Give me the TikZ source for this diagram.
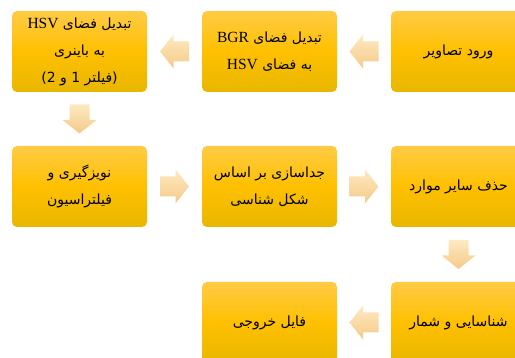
\documentclass[tikz,border=0pt]{standalone}
\usepackage{fontspec}
\setmainfont{Liberation Serif}
\newfontfamily\arabicfont[Script=Arabic]{DejaVu Sans}
\TeXXeTstate=1
\usetikzlibrary{calc}
\newcommand\lat[1]{\beginL{\normalfont\fontsize{15.5}{27}\selectfont #1}\endL}
\newcommand\rl[1]{\beginR #1\endR}
\definecolor{boxtop}{HTML}{FFCB45}
\definecolor{boxmid}{HTML}{FFC000}
\definecolor{boxbot}{HTML}{E8B700}
\definecolor{arrtop}{HTML}{FEE9C2}
\definecolor{arrbot}{HTML}{F4CA88}
\tikzset{
  stepbox/.style={rounded corners=5pt, minimum width=135pt, minimum height=81pt,
    top color=boxtop, bottom color=boxbot, middle color=boxmid,
    align=center, inner sep=0pt,
    font=\arabicfont\fontsize{14}{27}\selectfont},
  arrshade/.style={top color=arrtop, bottom color=arrbot}
}
\begin{document}
\begin{tikzpicture}[x=1pt,y=-1pt]
\useasboundingbox (0,0) rectangle (515,358);
\clip (0,0) rectangle (515,358);
% boxes
\node[stepbox] (b1) at (79.5,51.5) {\rl{تبدیل فضای \lat{HSV}}\\\rl{به باینری}\\\rl{(فیلتر 1 و 2)}};
\node[stepbox] (b2) at (269.5,51.5) {\rl{تبدیل فضای \lat{BGR}}\\\rl{به فضای \lat{HSV}}};
\node[stepbox] (b3) at (458.5,51.5) {\rl{ورود تصاویر}};
\node[stepbox] (b4) at (79.5,186.5) {\rl{نویزگیری و}\\\rl{فیلتراسیون}};
\node[stepbox] (b5) at (269.5,186.5) {\rl{جداسازی بر اساس}\\\rl{شکل شناسی}};
\node[stepbox] (b6) at (458.5,186.5) {\rl{حذف سایر موارد}};
\node[stepbox] (b7) at (458.5,322.5) {\rl{شناسایی و شمار}};
\node[stepbox] (b8) at (269.5,322.5) {\rl{فایل خروجی}};
% block arrows
\coordinate (m32) at ($(b3.west)!0.5!(b2.east)$);
\coordinate (m21) at ($(b2.west)!0.5!(b1.east)$);
\coordinate (m14) at ($(b1.south)!0.5!(b4.north)$);
\coordinate (m45) at ($(b4.east)!0.5!(b5.west)$);
\coordinate (m56) at ($(b5.east)!0.5!(b6.west)$);
\coordinate (m67) at ($(b6.south)!0.5!(b7.north)$);
\coordinate (m78) at ($(b7.west)!0.5!(b8.east)$);
% left arrows
\foreach \m in {m32,m21,m78}{
  \shade[arrshade] (\m) ++(-14.5,0) -- ++(13.5,-17) -- ++(0,7) -- ++(15.5,0) -- ++(0,20) -- ++(-15.5,0) -- ++(0,7) -- cycle;
}
% right arrows
\foreach \m in {m45,m56}{
  \shade[arrshade] (\m) ++(14.5,0) -- ++(-13.5,-17) -- ++(0,7) -- ++(-15.5,0) -- ++(0,20) -- ++(15.5,0) -- ++(0,7) -- cycle;
}
% down arrows
\foreach \m in {m14,m67}{
  \shade[arrshade] (\m) ++(0,14.5) -- ++(-17,-13.5) -- ++(7,0) -- ++(0,-15.5) -- ++(20,0) -- ++(0,15.5) -- ++(7,0) -- cycle;
}
\end{tikzpicture}
\end{document}
